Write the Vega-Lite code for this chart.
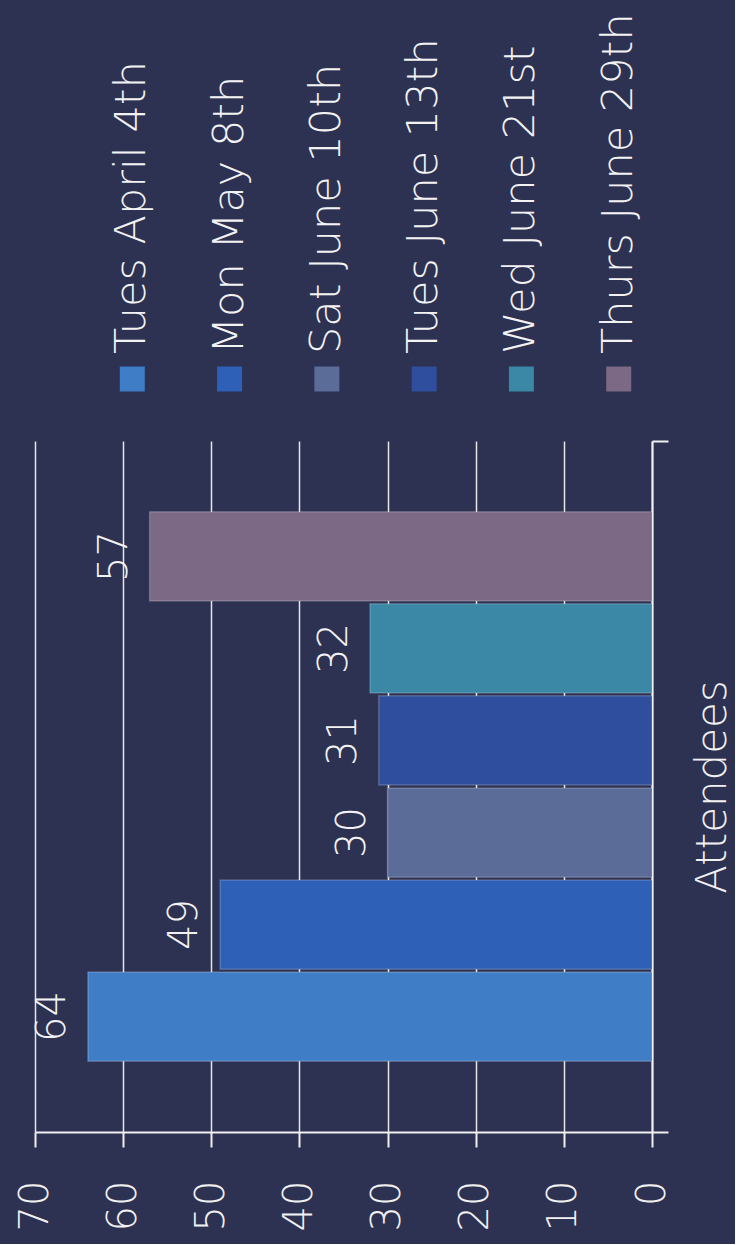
{
  "$schema": "https://vega.github.io/schema/vega-lite/v6.json",
  "background": "#2d3152",
  "padding": {"left": 15, "top": 13, "right": 2, "bottom": 13},
  "bounds": "flush",
  "spacing": 42,
  "config": {"view": {"stroke": null}, "font": "DejaVu Sans"},
  "data": {
    "values": [
      {"series": "Tues April 4th", "category": "Attendees", "value": 64},
      {"series": "Mon May 8th", "category": "Attendees", "value": 49},
      {"series": "Sat June 10th", "category": "Attendees", "value": 30},
      {"series": "Tues June 13th", "category": "Attendees", "value": 31},
      {"series": "Wed June 21st", "category": "Attendees", "value": 32},
      {"series": "Thurs June 29th", "category": "Attendees", "value": 57}
    ]
  },
  "vconcat": [
    {
      "width": 681,
      "height": 40,
      "encoding": {
        "x": {
          "field": "series",
          "type": "nominal",
          "sort": ["Tues April 4th", "Mon May 8th", "Sat June 10th", "Tues June 13th", "Wed June 21st", "Thurs June 29th"],
          "scale": {"padding": 2.216},
          "axis": null
        },
        "color": {
          "field": "series",
          "type": "nominal",
          "scale": {
            "domain": ["Tues April 4th", "Mon May 8th", "Sat June 10th", "Tues June 13th", "Wed June 21st", "Thurs June 29th"],
            "range": ["#3f7dc6", "#2d60b6", "#5b6c98", "#2f4f9e", "#3a87a6", "#7c6985"]
          },
          "legend": null
        }
      },
      "layer": [
        {"mark": {"type": "square", "size": 625, "opacity": 1, "filled": true}},
        {
          "mark": {"type": "text", "angle": 270, "align": "left", "baseline": "middle", "dx": 25, "fontSize": 43, "fontWeight": 300, "font": "DejaVu Sans"},
          "encoding": {"text": {"field": "series"}, "color": {"value": "#f2f2f2"}}
        }
      ]
    },
    {
      "width": 617,
      "height": 691,
      "encoding": {
        "y": {
          "field": "category",
          "type": "nominal",
          "scale": {"paddingInner": 0, "paddingOuter": 0},
          "axis": {
            "orient": "right",
            "title": null,
            "grid": false,
            "domainColor": "#f0f0f0",
            "domainWidth": 2,
            "tickBand": "extent",
            "tickSize": 16,
            "tickColor": "#f0f0f0",
            "tickWidth": 2,
            "labelAngle": 270,
            "labelAlign": "center",
            "labelBaseline": "top",
            "labelPadding": 24,
            "labelLimit": 0,
            "labelFontSize": 42,
            "labelFontWeight": 300,
            "labelFont": "DejaVu Sans",
            "labelColor": "#f0f0f0"
          }
        },
        "yOffset": {
          "field": "series",
          "type": "nominal",
          "sort": ["Thurs June 29th", "Wed June 21st", "Tues June 13th", "Sat June 10th", "Mon May 8th", "Tues April 4th"],
          "scale": {"paddingInner": 0.03, "paddingOuter": 0.77}
        },
        "x": {
          "field": "value",
          "type": "quantitative",
          "scale": {"domain": [0, 70], "reverse": true, "nice": false, "zero": true},
          "axis": {
            "title": null,
            "values": [0, 10, 20, 30, 40, 50, 60, 70],
            "grid": true,
            "gridColor": "#e6e6e6",
            "gridWidth": 1.5,
            "domainColor": "#f0f0f0",
            "domainWidth": 2,
            "tickSize": 15,
            "tickColor": "#f0f0f0",
            "tickWidth": 2,
            "labelAngle": 270,
            "labelAlign": "right",
            "labelBaseline": "middle",
            "labelPadding": 33,
            "labelFlush": false,
            "labelOverlap": false,
            "labelFontSize": 40,
            "labelFontWeight": 300,
            "labelFont": "DejaVu Sans",
            "labelColor": "#f0f0f0"
          }
        }
      },
      "layer": [
        {
          "mark": {"type": "bar", "stroke": "#ffffff", "strokeOpacity": 0.2, "strokeWidth": 1.5},
          "encoding": {
            "color": {
              "field": "series",
              "type": "nominal",
              "scale": {
                "domain": ["Tues April 4th", "Mon May 8th", "Sat June 10th", "Tues June 13th", "Wed June 21st", "Thurs June 29th"],
                "range": ["#3f7dc6", "#2d60b6", "#5b6c98", "#2f4f9e", "#3a87a6", "#7c6985"]
              },
              "legend": null
            }
          }
        },
        {
          "mark": {"type": "text", "angle": 270, "align": "center", "baseline": "alphabetic", "dy": -23, "fontSize": 40, "fontWeight": 300, "font": "DejaVu Sans", "color": "#f2f2f2"},
          "encoding": {"text": {"field": "value", "type": "quantitative"}}
        }
      ]
    }
  ]
}
